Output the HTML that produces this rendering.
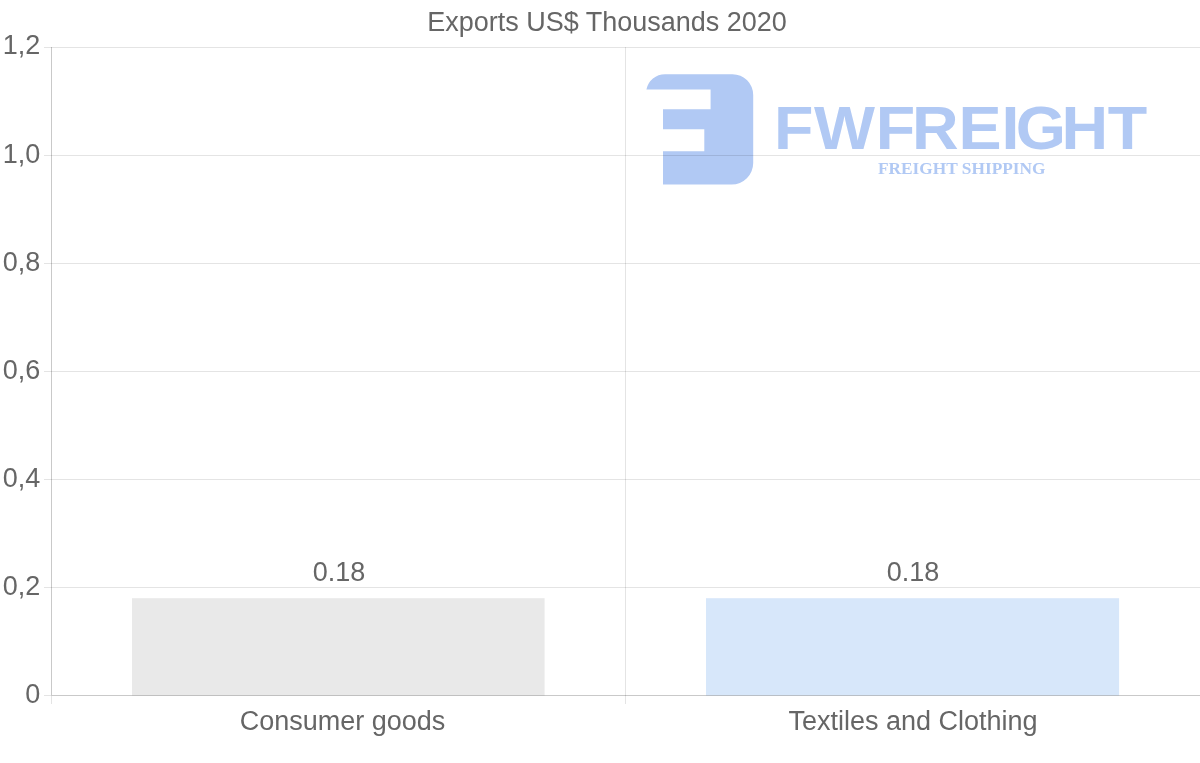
<!DOCTYPE html>
<html><head><meta charset="utf-8"><title>Exports US$ Thousands 2020</title>
<style>
html,body{margin:0;padding:0;background:#fff;}
body{width:1200px;height:763px;overflow:hidden;font-family:"Liberation Sans",sans-serif;}
svg{display:block}
text{font-family:"Liberation Sans",sans-serif}
.g{fill:#666}
.l{fill:#b1c9f4}
text.serif{font-family:"Liberation Serif",serif}
</style></head><body>
<svg width="1200" height="763" viewBox="0 0 1200 763">
<rect width="1200" height="763" fill="#fff"/>
<!-- logo -->
<g class="l">
<path d="M665 74.2 H732.5 A20.7 20.7 0 0 1 753.2 94.9 V163 A21.6 21.6 0 0 1 731.6 184.6 H663 V151.2 H704.3 V129.3 H663 V109.2 H710.6 V89.6 H646.4 A19 19 0 0 1 665 74.2 Z"/>
<text class="l" font-size="61.5" font-weight="bold" transform="translate(0,148.8) scale(1.05,1)" x="737.16 775.24 834.16 868.70 912.83 953.74 967.41 1010.88 1054.96" y="0">FWFREIGHT</text>
<text class="serif l" x="878" y="174.3" font-size="17.7" font-weight="bold" textLength="167.5" lengthAdjust="spacingAndGlyphs">FREIGHT SHIPPING</text>
</g>
<!-- grid -->
<g fill="rgba(0,0,0,0.105)">
<rect x="44" y="47" width="1156" height="1"/>
<rect x="44" y="155" width="1156" height="1"/>
<rect x="44" y="263" width="1156" height="1"/>
<rect x="44" y="371" width="1156" height="1"/>
<rect x="44" y="479" width="1156" height="1"/>
<rect x="44" y="587" width="1156" height="1"/>
<rect x="625" y="47" width="1" height="657"/>
<rect x="51" y="696" width="1" height="8"/>
<rect x="44" y="695" width="7" height="1"/>
</g>
<!-- bars -->
<rect x="132" y="598.2" width="412.6" height="97.3" fill="#e9e9e9"/>
<rect x="706" y="598.2" width="413.1" height="97.3" fill="#d7e7fa"/>
<g fill="rgba(0,0,0,0.21)">
<rect x="51" y="47" width="1" height="649"/>
<rect x="52" y="695" width="1148" height="1"/>
</g>
<!-- title -->
<text class="g" x="607" y="31" font-size="27" text-anchor="middle">Exports US$ Thousands 2020</text>
<!-- y labels -->
<g class="g" font-size="27" text-anchor="end">
<text x="40.2" y="54">1,2</text>
<text x="40.2" y="163">1,0</text>
<text x="40.2" y="271">0,8</text>
<text x="40.2" y="379">0,6</text>
<text x="40.2" y="487">0,4</text>
<text x="40.2" y="595">0,2</text>
<text x="40.2" y="703">0</text>
</g>
<g class="g" font-size="27" text-anchor="middle">
<text x="339" y="581">0.18</text>
<text x="913" y="581">0.18</text>
<text x="342.5" y="730">Consumer goods</text>
<text x="913" y="730">Textiles and Clothing</text>
</g>
</svg>
</body></html>
